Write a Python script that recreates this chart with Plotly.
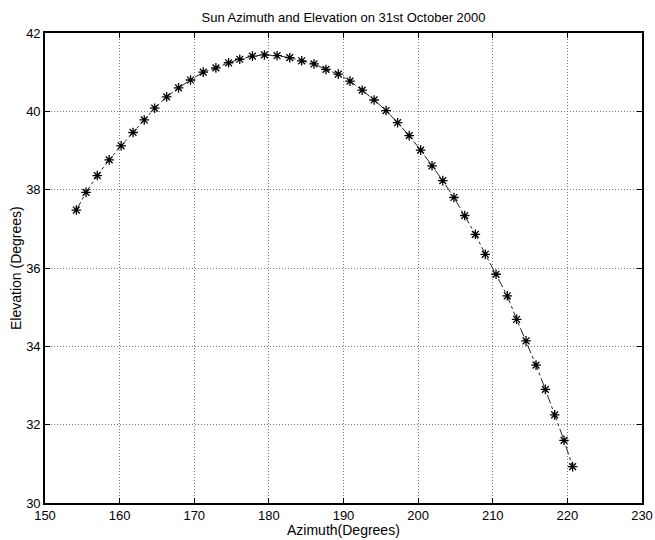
import plotly.graph_objects as go

# Sun position samples for 31 October 2000
azimuth_deg = [
    154.2, 155.5, 157.0, 158.6, 160.2, 161.8, 163.3, 164.7, 166.3, 167.9,
    169.5, 171.2, 172.9, 174.6, 176.1, 177.8, 179.4, 181.1, 182.8, 184.4,
    186.05, 187.65, 189.3, 190.87, 192.5, 194.1, 195.7, 197.25, 198.8, 200.34,
    201.86, 203.3, 204.8, 206.24, 207.67, 209.0, 210.44, 211.95, 213.2, 214.46,
    215.8, 217.05, 218.3, 219.55, 220.7,
]
elevation_deg = [
    37.48, 37.93, 38.36, 38.76, 39.12, 39.46, 39.78, 40.08, 40.37, 40.60,
    40.80, 41.00, 41.11, 41.24, 41.33, 41.41, 41.44, 41.42, 41.37, 41.29,
    41.21, 41.07, 40.95, 40.77, 40.54, 40.29, 40.02, 39.71, 39.38, 39.01,
    38.61, 38.23, 37.80, 37.34, 36.86, 36.35, 35.84, 35.29, 34.69, 34.14,
    33.52, 32.90, 32.25, 31.60, 30.93,
]

x_ticks = [150, 160, 170, 180, 190, 200, 210, 220, 230]
y_ticks = [30, 32, 34, 36, 38, 40, 42]

FONT = "Liberation Sans, Arial, Helvetica, sans-serif"

fig = go.Figure()
fig.add_trace(go.Scatter(
    x=azimuth_deg,
    y=elevation_deg,
    mode="lines+markers",
    line=dict(color="#222222", width=1, dash="dashdot"),
    marker=dict(symbol="asterisk-open", size=8, color="black",
                line=dict(color="black", width=1.3)),
    showlegend=False,
))

axis_common = dict(
    showline=True, linecolor="black", linewidth=1.6, mirror="ticks",
    ticks="inside", ticklen=5, tickwidth=1, tickcolor="black",
    showgrid=True, gridcolor="#777777", gridwidth=1, griddash="1px,2px",
    zeroline=False,
    tickfont=dict(family=FONT, size=13, color="black"),
)

fig.update_xaxes(range=[150, 230], tickvals=x_ticks, **axis_common)
fig.update_yaxes(range=[30, 42], tickvals=y_ticks, **axis_common)

fig.update_layout(
    width=655, height=540,
    margin=dict(l=45, r=13, t=33, b=37, autoexpand=False),
    paper_bgcolor="white", plot_bgcolor="white",
    font=dict(family=FONT, color="black"),
    title=dict(
        text="Sun Azimuth and Elevation on 31st October 2000",
        font=dict(family=FONT, size=13, color="black"),
        x=0.5, xref="paper", xanchor="center",
        y=1 - 17 / 540, yref="container", yanchor="middle",
    ),
    annotations=[
        # x-axis title, just below the tick labels
        dict(text="Azimuth(Degrees)", x=0.5, xref="paper", xanchor="center",
             y=0, yref="paper", yanchor="middle", yshift=-27,
             showarrow=False, font=dict(family=FONT, size=14, color="black")),
        # y-axis title, rotated, left of the tick labels
        dict(text="Elevation (Degrees)", x=0, xref="paper", xanchor="center",
             xshift=-29, y=0.5, yref="paper", yanchor="middle",
             textangle=-90, showarrow=False,
             font=dict(family=FONT, size=14, color="black")),
    ],
)

fig.write_html("out.html")
